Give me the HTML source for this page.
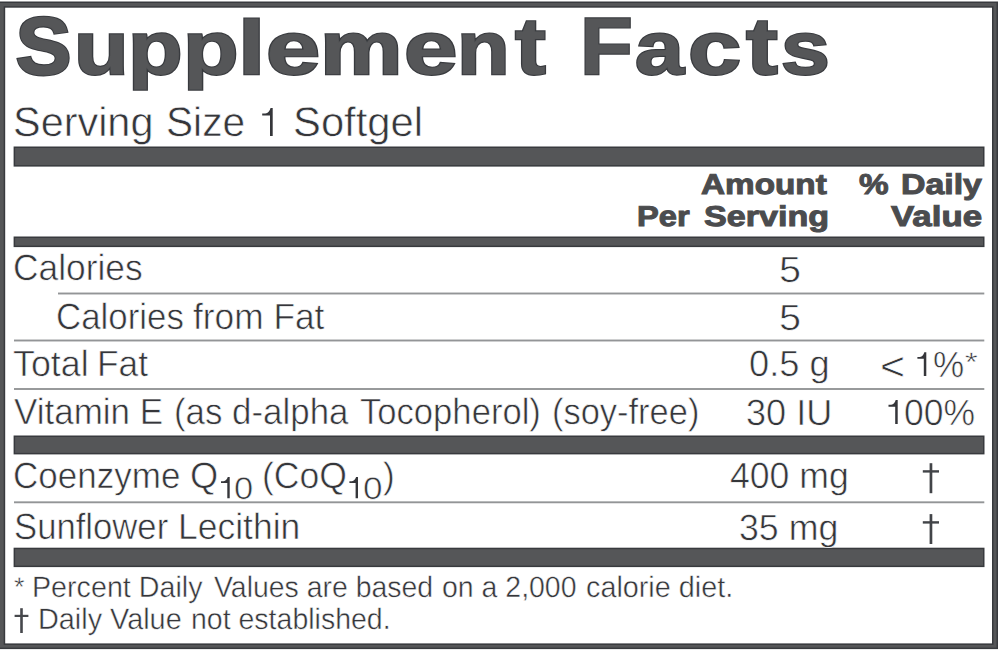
<!DOCTYPE html>
<html><head><meta charset="utf-8"><title>Supplement Facts</title>
<style>
html,body{margin:0;padding:0;background:#fff;}
body{width:1000px;height:651px;position:relative;overflow:hidden;font-family:'Liberation Sans', sans-serif;color:#4b4c4e;}
.r{position:absolute;box-sizing:content-box;}
.t{position:absolute;white-space:nowrap;line-height:1;transform-origin:0 0;text-rendering:geometricPrecision;}
</style></head><body>
<svg class="r" style="left:0;top:0" width="1000" height="651" viewBox="0 0 1000 651">
<rect x="0.00" y="1.50" width="998.00" height="647.60" fill="#383a3e"/>
<rect x="0.00" y="3.00" width="996.50" height="644.60" fill="#555658"/>
<rect x="3.70" y="6.20" width="989.80" height="638.70" fill="#383a3e"/>
<rect x="5.20" y="7.70" width="986.80" height="635.70" fill="#fff"/>
<rect x="13.60" y="146.50" width="970.90" height="20.10" fill="#383a3e"/><rect x="15.10" y="148.00" width="967.90" height="17.10" fill="#555658"/>
<rect x="13.60" y="236.50" width="970.90" height="10.60" fill="#383a3e"/><rect x="15.10" y="238.00" width="967.90" height="7.60" fill="#555658"/>
<rect x="13.60" y="435.50" width="970.90" height="18.90" fill="#383a3e"/><rect x="15.10" y="437.00" width="967.90" height="15.90" fill="#555658"/>
<rect x="13.60" y="547.70" width="970.90" height="19.40" fill="#383a3e"/><rect x="15.10" y="549.20" width="967.90" height="16.40" fill="#555658"/>
<rect x="58.00" y="292.55" width="926.30" height="1.90" fill="#939597"/>
<rect x="14.00" y="339.55" width="970.30" height="1.90" fill="#939597"/>
<rect x="14.00" y="388.05" width="970.30" height="1.90" fill="#939597"/>
<rect x="14.00" y="501.35" width="970.30" height="1.90" fill="#939597"/>
<rect x="929.60" y="463.20" width="2.70" height="30.00" fill="#424448"/>
<rect x="922.80" y="470.20" width="16.20" height="2.40" fill="#424448"/>
<rect x="929.60" y="514.10" width="2.70" height="29.90" fill="#424448"/>
<rect x="922.80" y="521.20" width="16.20" height="2.40" fill="#424448"/>
<rect x="20.20" y="608.20" width="2.60" height="24.80" fill="#46484c"/>
<rect x="14.60" y="614.80" width="13.80" height="2.20" fill="#46484c"/>
<path transform="translate(262.20,108.00)" d="M10.50,0 L10.50,28.10 L7.80,28.10 L7.80,7.56 L0,7.56 L0,5.62 L3.12,5.62 Q7.18,4.78 8.34,0 Z" fill="#35363a"/>
<path transform="translate(917.40,352.20)" d="M8.90,0 L8.90,23.70 L6.40,23.70 L6.40,6.54 L0,6.54 L0,4.74 L2.56,4.74 Q5.89,4.03 6.90,0 Z" fill="#35363a"/>
<path transform="translate(888.50,400.10)" d="M9.20,0 L9.20,23.80 L6.70,23.80 L6.70,6.56 L0,6.56 L0,4.76 L2.68,4.76 Q6.16,4.05 7.20,0 Z" fill="#35363a"/>
<path transform="translate(221.00,477.10)" d="M8.70,0 L8.70,21.10 L6.30,21.10 L6.30,5.95 L0,5.95 L0,4.22 L2.52,4.22 Q5.80,3.59 6.78,0 Z" fill="#35363a"/>
<path transform="translate(349.40,477.10)" d="M8.60,0 L8.60,21.10 L6.20,21.10 L6.20,5.95 L0,5.95 L0,4.22 L2.48,4.22 Q5.70,3.59 6.68,0 Z" fill="#35363a"/>
</svg>
<span class="t" style="left:12.76px;top:102.20px;font-size:41.2px;font-weight:400;color:#35363a;-webkit-text-stroke:0.6px #fff;transform:scaleX(1.0057)">Serving</span>
<span class="t" style="left:166.06px;top:102.20px;font-size:41.2px;font-weight:400;color:#35363a;-webkit-text-stroke:0.6px #fff;transform:scaleX(0.9873)">Size</span>
<span class="t" style="left:293.48px;top:102.20px;font-size:41.2px;font-weight:400;color:#35363a;-webkit-text-stroke:0.6px #fff;transform:scaleX(1.0148)">Softgel</span>
<span class="t" style="left:700.97px;top:171.00px;font-size:28.6px;font-weight:700;color:#4b4c4e;-webkit-text-stroke:1.0px #4b4c4e;transform:scaleX(1.1645)">Amount</span>
<span class="t" style="left:636.61px;top:202.80px;font-size:28.6px;font-weight:700;color:#4b4c4e;-webkit-text-stroke:1.0px #4b4c4e;transform:scaleX(1.1416)">Per</span>
<span class="t" style="left:703.64px;top:202.80px;font-size:28.6px;font-weight:700;color:#4b4c4e;-webkit-text-stroke:1.0px #4b4c4e;transform:scaleX(1.1922)">Serving</span>
<span class="t" style="left:858.64px;top:171.00px;font-size:28.6px;font-weight:700;color:#4b4c4e;-webkit-text-stroke:1.0px #4b4c4e;transform:scaleX(1.1641)">%</span>
<span class="t" style="left:900.85px;top:171.00px;font-size:28.6px;font-weight:700;color:#4b4c4e;-webkit-text-stroke:1.0px #4b4c4e;transform:scaleX(1.1844)">Daily</span>
<span class="t" style="left:891.13px;top:202.80px;font-size:28.6px;font-weight:700;color:#4b4c4e;-webkit-text-stroke:1.0px #4b4c4e;transform:scaleX(1.2190)">Value</span>
<span class="t" style="left:12.58px;top:250.20px;font-size:36.5px;font-weight:400;color:#35363a;-webkit-text-stroke:0.6px #fff;transform:scaleX(0.9689)">Calories</span>
<span class="t" style="left:779.02px;top:251.50px;font-size:36.5px;font-weight:400;color:#35363a;-webkit-text-stroke:0.6px #fff;transform:scaleX(1.0836)">5</span>
<span class="t" style="left:55.62px;top:298.70px;font-size:36.5px;font-weight:400;color:#35363a;-webkit-text-stroke:0.6px #fff;transform:scaleX(0.9554)">Calories</span>
<span class="t" style="left:192.94px;top:298.70px;font-size:36.5px;font-weight:400;color:#35363a;-webkit-text-stroke:0.6px #fff;transform:scaleX(0.9670)">from Fat</span>
<span class="t" style="left:779.02px;top:299.60px;font-size:36.5px;font-weight:400;color:#35363a;-webkit-text-stroke:0.6px #fff;transform:scaleX(1.0836)">5</span>
<span class="t" style="left:13.36px;top:346.00px;font-size:36.5px;font-weight:400;color:#35363a;-webkit-text-stroke:0.6px #fff;transform:scaleX(0.9810)">Total</span>
<span class="t" style="left:97.05px;top:346.00px;font-size:36.5px;font-weight:400;color:#35363a;-webkit-text-stroke:0.6px #fff;transform:scaleX(0.9672)">Fat</span>
<span class="t" style="left:749.11px;top:346.40px;font-size:36.5px;font-weight:400;color:#35363a;-webkit-text-stroke:0.6px #fff;transform:scaleX(0.9928)">0.5 g</span>
<span class="t" style="left:880.36px;top:346.93px;font-size:36.5px;font-weight:400;color:#35363a;-webkit-text-stroke:0.6px #fff;transform:scale(1.1775,1.0929)">&lt;</span>
<span class="t" style="left:933.10px;top:346.60px;font-size:36.5px;font-weight:400;color:#35363a;-webkit-text-stroke:0.6px #fff;transform:scaleX(0.9612)">%</span>
<span class="t" style="left:964.59px;top:348.78px;font-size:36.5px;font-weight:400;color:#35363a;-webkit-text-stroke:0.6px #fff;transform:scale(0.8847,0.7256)">*</span>
<span class="t" style="left:13.79px;top:394.10px;font-size:36.5px;font-weight:400;color:#35363a;-webkit-text-stroke:0.6px #fff;transform:scaleX(0.9589)">Vitamin E</span>
<span class="t" style="left:174.38px;top:394.10px;font-size:36.5px;font-weight:400;color:#35363a;-webkit-text-stroke:0.6px #fff;transform:scaleX(0.9552)">(as d-alpha</span>
<span class="t" style="left:359.54px;top:394.10px;font-size:36.5px;font-weight:400;color:#35363a;-webkit-text-stroke:0.6px #fff;transform:scaleX(0.9484)">Tocopherol)</span>
<span class="t" style="left:552.21px;top:394.10px;font-size:36.5px;font-weight:400;color:#35363a;-webkit-text-stroke:0.6px #fff;transform:scaleX(0.9437)">(soy-free)</span>
<span class="t" style="left:746.15px;top:394.80px;font-size:36.5px;font-weight:400;color:#35363a;-webkit-text-stroke:0.6px #fff;transform:scaleX(0.9895)">30 IU</span>
<span class="t" style="left:903.74px;top:394.80px;font-size:36.5px;font-weight:400;color:#35363a;-webkit-text-stroke:0.6px #fff;transform:scaleX(0.9730)">00%</span>
<span class="t" style="left:13.69px;top:509.00px;font-size:36.5px;font-weight:400;color:#35363a;-webkit-text-stroke:0.6px #fff;transform:scaleX(0.9499)">Sunflower</span>
<span class="t" style="left:177.78px;top:509.00px;font-size:36.5px;font-weight:400;color:#35363a;-webkit-text-stroke:0.6px #fff;transform:scaleX(0.9720)">Lecithin</span>
<span class="t" style="left:739.17px;top:509.90px;font-size:36.5px;font-weight:400;color:#35363a;-webkit-text-stroke:0.6px #fff;transform:scaleX(0.9790)">35 mg</span>
<span class="t" style="left:13.70px;top:574.18px;font-size:29.5px;font-weight:400;color:#35363a;-webkit-text-stroke:0.45px #fff;transform:scale(0.9164,0.9087)">*</span>
<span class="t" style="left:32.32px;top:573.10px;font-size:29.5px;font-weight:400;color:#35363a;-webkit-text-stroke:0.45px #fff;transform:scaleX(0.9719)">Percent Daily</span>
<span class="t" style="left:214.24px;top:573.10px;font-size:29.5px;font-weight:400;color:#35363a;-webkit-text-stroke:0.45px #fff;transform:scaleX(0.9635)">Values are based</span>
<span class="t" style="left:442.40px;top:573.10px;font-size:29.5px;font-weight:400;color:#35363a;-webkit-text-stroke:0.45px #fff;transform:scaleX(0.9648)">on a 2,000</span>
<span class="t" style="left:586.38px;top:573.10px;font-size:29.5px;font-weight:400;color:#35363a;-webkit-text-stroke:0.45px #fff;transform:scaleX(0.9754)">calorie diet.</span>
<span class="t" style="left:38.41px;top:604.60px;font-size:29.5px;font-weight:400;color:#35363a;-webkit-text-stroke:0.45px #fff;transform:scaleX(0.9772)">Daily Value</span>
<span class="t" style="left:190.87px;top:604.60px;font-size:29.5px;font-weight:400;color:#35363a;-webkit-text-stroke:0.45px #fff;transform:scaleX(0.9659)">not established.</span>
<span class="t" style="left:730.31px;top:458.30px;font-size:36.5px;font-weight:400;color:#35363a;-webkit-text-stroke:0.6px #fff;transform:scaleX(0.9758)">400 mg</span>
<span class="t" style="left:12.61px;top:457.80px;font-size:36.5px;font-weight:400;color:#35363a;-webkit-text-stroke:0.6px #fff;transform:scaleX(0.9593)">Coenzyme</span>
<span class="t" style="left:190.22px;top:457.80px;font-size:36.5px;font-weight:400;color:#35363a;-webkit-text-stroke:0.6px #fff;transform:scaleX(0.9928)">Q</span>
<span class="t" style="left:233.79px;top:472.50px;font-size:31.2px;font-weight:400;color:#35363a;-webkit-text-stroke:0.6px #fff;transform:scaleX(1.1066)">0</span>
<span class="t" style="left:262.03px;top:457.80px;font-size:36.5px;font-weight:400;color:#35363a;-webkit-text-stroke:0.6px #fff;transform:scaleX(0.9743)">(CoQ</span>
<span class="t" style="left:363.25px;top:472.50px;font-size:31.2px;font-weight:400;color:#35363a;-webkit-text-stroke:0.6px #fff;transform:scaleX(1.1275)">0</span>
<span class="t" style="left:382.51px;top:457.80px;font-size:36.5px;font-weight:400;color:#35363a;-webkit-text-stroke:0.6px #fff;transform:scaleX(0.9640)">)</span>
<span class="t" style="left:16.47px;top:6.80px;font-size:81.0px;font-weight:700;color:#383a3e;-webkit-text-stroke:3.4px #383a3e;transform:scaleX(1.0218)">S</span>
<span class="t" style="left:16.47px;top:6.80px;font-size:81.0px;font-weight:700;color:#555658;-webkit-text-stroke:1.2999999999999998px #555658;transform:scaleX(1.0218)">S</span>
<span class="t" style="left:73.73px;top:10.80px;font-size:75.0px;font-weight:700;color:#383a3e;-webkit-text-stroke:2.4px #383a3e;transform:scaleX(1.1944)">u</span>
<span class="t" style="left:73.73px;top:10.80px;font-size:75.0px;font-weight:700;color:#555658;-webkit-text-stroke:0.2999999999999998px #555658;transform:scaleX(1.1944)">u</span>
<span class="t" style="left:127.87px;top:10.80px;font-size:75.0px;font-weight:700;color:#383a3e;-webkit-text-stroke:2.4px #383a3e;transform:scaleX(1.1928)">p</span>
<span class="t" style="left:127.87px;top:10.80px;font-size:75.0px;font-weight:700;color:#555658;-webkit-text-stroke:0.2999999999999998px #555658;transform:scaleX(1.1928)">p</span>
<span class="t" style="left:183.00px;top:10.80px;font-size:75.0px;font-weight:700;color:#383a3e;-webkit-text-stroke:2.4px #383a3e;transform:scaleX(1.2129)">p</span>
<span class="t" style="left:183.00px;top:10.80px;font-size:75.0px;font-weight:700;color:#555658;-webkit-text-stroke:0.2999999999999998px #555658;transform:scaleX(1.2129)">p</span>
<span class="t" style="left:238.05px;top:10.80px;font-size:76.4px;font-weight:700;color:#383a3e;-webkit-text-stroke:2.4px #383a3e;transform:scaleX(1.2846)">l</span>
<span class="t" style="left:238.05px;top:10.80px;font-size:76.4px;font-weight:700;color:#555658;-webkit-text-stroke:0.2999999999999998px #555658;transform:scaleX(1.2846)">l</span>
<span class="t" style="left:265.64px;top:10.80px;font-size:75.0px;font-weight:700;color:#383a3e;-webkit-text-stroke:2.4px #383a3e;transform:scaleX(1.3002)">e</span>
<span class="t" style="left:265.64px;top:10.80px;font-size:75.0px;font-weight:700;color:#555658;-webkit-text-stroke:0.2999999999999998px #555658;transform:scaleX(1.3002)">e</span>
<span class="t" style="left:319.80px;top:10.80px;font-size:75.0px;font-weight:700;color:#383a3e;-webkit-text-stroke:2.4px #383a3e;transform:scaleX(1.2376)">m</span>
<span class="t" style="left:319.80px;top:10.80px;font-size:75.0px;font-weight:700;color:#555658;-webkit-text-stroke:0.2999999999999998px #555658;transform:scaleX(1.2376)">m</span>
<span class="t" style="left:403.93px;top:10.80px;font-size:75.0px;font-weight:700;color:#383a3e;-webkit-text-stroke:2.4px #383a3e;transform:scaleX(1.2807)">e</span>
<span class="t" style="left:403.93px;top:10.80px;font-size:75.0px;font-weight:700;color:#555658;-webkit-text-stroke:0.2999999999999998px #555658;transform:scaleX(1.2807)">e</span>
<span class="t" style="left:456.89px;top:10.80px;font-size:75.0px;font-weight:700;color:#383a3e;-webkit-text-stroke:2.4px #383a3e;transform:scaleX(1.1498)">n</span>
<span class="t" style="left:456.89px;top:10.80px;font-size:75.0px;font-weight:700;color:#555658;-webkit-text-stroke:0.2999999999999998px #555658;transform:scaleX(1.1498)">n</span>
<span class="t" style="left:514.70px;top:6.80px;font-size:80.5px;font-weight:700;color:#383a3e;-webkit-text-stroke:2.4px #383a3e;transform:scaleX(1.1505)">t</span>
<span class="t" style="left:514.70px;top:6.80px;font-size:80.5px;font-weight:700;color:#555658;-webkit-text-stroke:0.2999999999999998px #555658;transform:scaleX(1.1505)">t</span>
<span class="t" style="left:580.23px;top:6.80px;font-size:80.85px;font-weight:700;color:#383a3e;-webkit-text-stroke:2.4px #383a3e;transform:scaleX(1.0671)">F</span>
<span class="t" style="left:580.23px;top:6.80px;font-size:80.85px;font-weight:700;color:#555658;-webkit-text-stroke:0.2999999999999998px #555658;transform:scaleX(1.0671)">F</span>
<span class="t" style="left:634.66px;top:10.80px;font-size:75.0px;font-weight:700;color:#383a3e;-webkit-text-stroke:2.4px #383a3e;transform:scaleX(1.1741)">a</span>
<span class="t" style="left:634.66px;top:10.80px;font-size:75.0px;font-weight:700;color:#555658;-webkit-text-stroke:0.2999999999999998px #555658;transform:scaleX(1.1741)">a</span>
<span class="t" style="left:688.40px;top:10.80px;font-size:75.0px;font-weight:700;color:#383a3e;-webkit-text-stroke:2.4px #383a3e;transform:scaleX(1.2737)">c</span>
<span class="t" style="left:688.40px;top:10.80px;font-size:75.0px;font-weight:700;color:#555658;-webkit-text-stroke:0.2999999999999998px #555658;transform:scaleX(1.2737)">c</span>
<span class="t" style="left:745.50px;top:6.80px;font-size:80.5px;font-weight:700;color:#383a3e;-webkit-text-stroke:2.4px #383a3e;transform:scaleX(1.1876)">t</span>
<span class="t" style="left:745.50px;top:6.80px;font-size:80.5px;font-weight:700;color:#555658;-webkit-text-stroke:0.2999999999999998px #555658;transform:scaleX(1.1876)">t</span>
<span class="t" style="left:781.34px;top:10.80px;font-size:75.0px;font-weight:700;color:#383a3e;-webkit-text-stroke:2.4px #383a3e;transform:scaleX(1.1699)">s</span>
<span class="t" style="left:781.34px;top:10.80px;font-size:75.0px;font-weight:700;color:#555658;-webkit-text-stroke:0.2999999999999998px #555658;transform:scaleX(1.1699)">s</span>
</body></html>
